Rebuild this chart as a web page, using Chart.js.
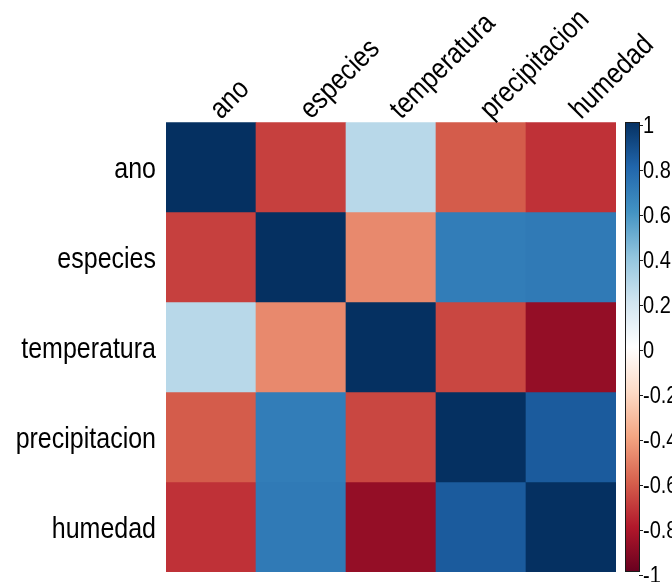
<!DOCTYPE html>
<html>
<head>
<meta charset="utf-8">
<script src="https://cdn.jsdelivr.net/npm/chart.js@4.4.1/dist/chart.umd.min.js"></script>
<style>
html, body { margin: 0; padding: 0; background: #ffffff; }
canvas { display: block; }
</style>
</head>
<body>
<canvas id="corr" width="672" height="582"></canvas>
<script>
// Variables of the correlation matrix (rows and columns share the same order)
const variables = ['ano', 'especies', 'temperatura', 'precipitacion', 'humedad'];

// Pearson correlation coefficients, one array per row
const rowAno           = [ 1.00, -0.69,  0.28, -0.61, -0.73];
const rowEspecies      = [-0.69,  1.00, -0.48,  0.70,  0.71];
const rowTemperatura   = [ 0.28, -0.48,  1.00, -0.67, -0.88];
const rowPrecipitacion = [-0.61,  0.70, -0.67,  1.00,  0.84];
const rowHumedad       = [-0.73,  0.71, -0.88,  0.84,  1.00];

// Colour legend ticks
const legendTickValues = [1, 0.8, 0.6, 0.4, 0.2, 0, -0.2, -0.4, -0.6, -0.8, -1];
const legendTickLabels = ['1', '0.8', '0.6', '0.4', '0.2', '0', '-0.2', '-0.4', '-0.6', '-0.8', '-1'];

const matrix = [rowAno, rowEspecies, rowTemperatura, rowPrecipitacion, rowHumedad];

// Diverging red-white-blue palette, from -1 to 1
const RDBU = ['#67001F', '#B2182B', '#D6604D', '#F4A582', '#FDDBC7', '#FFFFFF',
              '#D1E5F0', '#92C5DE', '#4393C3', '#2166AC', '#053061'];

function hexToRgb(h) {
  return [parseInt(h.slice(1, 3), 16), parseInt(h.slice(3, 5), 16), parseInt(h.slice(5, 7), 16)];
}
function corrColor(v) {
  const t = Math.max(0, Math.min(1, (v + 1) / 2)) * (RDBU.length - 1);
  const i = Math.min(Math.floor(t), RDBU.length - 2);
  const f = t - i;
  const a = hexToRgb(RDBU[i]), b = hexToRgb(RDBU[i + 1]);
  const c = a.map((x, k) => Math.round(x + (b[k] - x) * f));
  return `rgb(${c[0]},${c[1]},${c[2]})`;
}

const FONT = '"Liberation Sans", Arial, Helvetica, sans-serif';
const STRETCH = 1.16; // tall, narrow lettering

// Labels around the matrix and the colour legend
const corrDecorations = {
  id: 'corrDecorations',
  afterDraw(chart) {
    const ctx = chart.ctx;
    const xs = chart.scales.x, ys = chart.scales.y, cb = chart.scales.cb;
    ctx.save();
    ctx.fillStyle = '#000000';

    // row labels
    ctx.font = '25px ' + FONT;
    ctx.textAlign = 'right';
    ctx.textBaseline = 'alphabetic';
    variables.forEach((name, r) => {
      const y = ys.getPixelForValue(r + 0.5);
      ctx.save();
      ctx.translate(xs.left - 10, y + 10.5);
      ctx.scale(1, STRETCH);
      ctx.fillText(name, 0, 0);
      ctx.restore();
    });

    // column labels, rotated 45 degrees
    ctx.textAlign = 'left';
    variables.forEach((name, c) => {
      const x = xs.getPixelForValue(c);
      ctx.save();
      ctx.translate(x + 10, ys.top - 2);
      ctx.rotate(-Math.PI / 4);
      ctx.scale(1, STRETCH);
      ctx.fillText(name, 0, 0);
      ctx.restore();
    });

    // colour legend bar
    const barL = xs.right + 9, barR = xs.right + 24;
    const yTop = cb.getPixelForValue(1), yBot = cb.getPixelForValue(-1);
    const grad = ctx.createLinearGradient(0, yBot, 0, yTop);
    RDBU.forEach((col, i) => grad.addColorStop(i / (RDBU.length - 1), col));
    ctx.fillStyle = grad;
    ctx.fillRect(barL, yTop, barR - barL, yBot - yTop);
    ctx.strokeStyle = '#1a1a1a';
    ctx.lineWidth = 1;
    ctx.strokeRect(barL + 0.5, yTop + 0.5, barR - barL - 1, yBot - yTop - 1);

    // legend ticks and labels
    ctx.fillStyle = '#000000';
    ctx.font = '20px ' + FONT;
    ctx.textAlign = 'left';
    cb.ticks.forEach((t) => {
      const idx = legendTickValues.indexOf(t.value);
      if (idx < 0) return;
      const y = Math.round(cb.getPixelForValue(t.value)) + 3;
      ctx.beginPath();
      ctx.moveTo(barR - 1, y + 0.5);
      ctx.lineTo(barR + 3, y + 0.5);
      ctx.stroke();
      ctx.save();
      ctx.translate(barR + 3, y + 0.36 * 20 * STRETCH);
      ctx.scale(1, STRETCH);
      ctx.fillText(legendTickLabels[idx], 0, 0);
      ctx.restore();
    });
    ctx.restore();
  }
};

const gridStyle = {
  display: true,
  drawTicks: false,
  color: 'rgba(255,255,255,0.3)',
  lineWidth: 1
};

new Chart(document.getElementById('corr'), {
  type: 'bar',
  data: {
    labels: variables,
    datasets: matrix.map((row, r) => ({
      label: variables[r],
      data: row.map(() => [r, r + 1]),
      backgroundColor: row.map(corrColor),
      borderWidth: 0,
      barPercentage: 1,
      categoryPercentage: 1,
      grouped: false
    }))
  },
  options: {
    responsive: false,
    animation: false,
    devicePixelRatio: 1,
    layout: { padding: { left: 166, top: 122, right: 56, bottom: 10 } },
    plugins: {
      legend: { display: false },
      tooltip: { enabled: false }
    },
    scales: {
      x: {
        type: 'category',
        position: 'top',
        offset: true,
        z: 1,
        grid: Object.assign({ offset: true }, gridStyle),
        border: { display: false },
        ticks: { display: false }
      },
      y: {
        type: 'linear',
        min: 0,
        max: 5,
        reverse: true,
        z: 1,
        grid: gridStyle,
        border: { display: false },
        ticks: { display: false, stepSize: 1 }
      },
      cb: {
        type: 'linear',
        position: 'right',
        display: false,
        min: -1,
        max: 1,
        afterBuildTicks: (scale) => {
          scale.ticks = legendTickValues.map((v) => ({ value: v }));
        }
      }
    }
  },
  plugins: [corrDecorations]
});
</script>
</body>
</html>
